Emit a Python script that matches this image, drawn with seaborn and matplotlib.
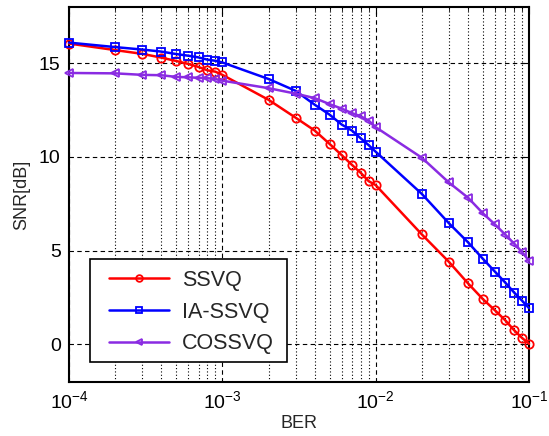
import matplotlib
matplotlib.use("Agg")
import matplotlib.pyplot as plt
import matplotlib.ticker as mticker
from matplotlib.patches import Rectangle
import seaborn as sns
import pandas as pd

# BER values where each curve was sampled
ber = [1e-4, 2e-4, 3e-4, 4e-4, 5e-4, 6e-4, 7e-4, 8e-4, 9e-4,
       1e-3, 2e-3, 3e-3, 4e-3, 5e-3, 6e-3, 7e-3, 8e-3, 9e-3,
       1e-2, 2e-2, 3e-2, 4e-2, 5e-2, 6e-2, 7e-2, 8e-2, 9e-2, 1e-1]

snr_ssvq = [16.05, 15.7, 15.5, 15.3, 15.12, 14.96, 14.8, 14.62, 14.55,
            14.38, 13.05, 12.1, 11.41, 10.7, 10.1, 9.58, 9.15, 8.71,
            8.5, 5.87, 4.41, 3.26, 2.42, 1.82, 1.29, 0.76, 0.35, 0.04]
snr_ia_ssvq = [16.1, 15.86, 15.73, 15.62, 15.49, 15.4, 15.31, 15.19, 15.13,
               15.04, 14.16, 13.53, 12.79, 12.26, 11.73, 11.41, 10.99, 10.63,
               10.28, 8.03, 6.47, 5.45, 4.57, 3.88, 3.3, 2.77, 2.34, 1.94]
snr_cossvq = [14.48, 14.46, 14.38, 14.36, 14.27, 14.25, 14.22, 14.2, 14.16,
              14.07, 13.67, 13.38, 13.14, 12.82, 12.58, 12.34, 12.17, 11.94,
              11.59, 9.96, 8.64, 7.83, 7.0, 6.4, 5.86, 5.38, 4.94, 4.46]

series = {"SSVQ": snr_ssvq, "IA-SSVQ": snr_ia_ssvq, "COSSVQ": snr_cossvq}
colors = {"SSVQ": "#ff0000", "IA-SSVQ": "#0000ff", "COSSVQ": "#8a2be2"}
markers = {"SSVQ": "o", "IA-SSVQ": "s", "COSSVQ": "<"}

sns.set_style("white")
plt.rcParams["font.family"] = ["Liberation Sans", "DejaVu Sans"]
plt.rcParams["mathtext.fontset"] = "custom"
plt.rcParams["mathtext.rm"] = "Liberation Sans"
plt.rcParams["mathtext.it"] = "Liberation Sans"

fig = plt.figure(figsize=(5.49, 4.36), dpi=100)
ax = fig.add_axes([0.1257, 0.1239, 0.8379, 0.8601])

for name, vals in series.items():
    df = pd.DataFrame({"BER": ber, "SNR": vals})
    sns.lineplot(data=df, x="BER", y="SNR", ax=ax, label=name,
                 color=colors[name], marker=markers[name], markersize=6,
                 markerfacecolor="none", markeredgecolor=colors[name],
                 markeredgewidth=1.3, linewidth=1.8, clip_on=False, zorder=3)

ax.set_xscale("log")
ax.set_xlim(1e-4, 1e-1)
ax.set_ylim(-2, 18)
ax.set_yticks([0, 5, 10, 15])
ax.xaxis.set_major_locator(mticker.LogLocator(base=10, numticks=10))
ax.xaxis.set_minor_locator(mticker.LogLocator(base=10, subs=range(2, 10), numticks=20))
ax.xaxis.set_minor_formatter(mticker.NullFormatter())

ax.grid(True, which="major", axis="both", color="black", linestyle=(0, (4, 3)), linewidth=0.8)
ax.grid(True, which="minor", axis="x", color="black", linestyle=(0, (1, 2)), linewidth=0.8)

ax.tick_params(axis="both", which="both", direction="in", top=True, right=True,
               labelsize=14, colors="black")
ax.tick_params(axis="both", which="major", length=5, pad=6)
ax.tick_params(axis="x", which="minor", length=3)
for sp in ax.spines.values():
    sp.set_color("black")
    sp.set_linewidth(1.5)

ax.set_xlabel("BER", fontsize=13, labelpad=2)
ax.set_ylabel("SNR[dB]", fontsize=13, labelpad=6)

# legend box drawn separately so it can be wider than the legend padding allows
box = Rectangle((0.0457, 0.0533), 0.4283, 0.2747, transform=ax.transAxes,
                facecolor="white", edgecolor="black", linewidth=1.2, zorder=4)
ax.add_patch(box)
leg = ax.legend(loc="center", bbox_to_anchor=(0.266, 0.186), fontsize=15.5,
                frameon=False, borderaxespad=0, handlelength=2.8,
                handletextpad=0.6, borderpad=0.45, labelspacing=0.5,
                markerscale=0.8)
leg.set_zorder(5)

fig.savefig("out.png", dpi=100)
